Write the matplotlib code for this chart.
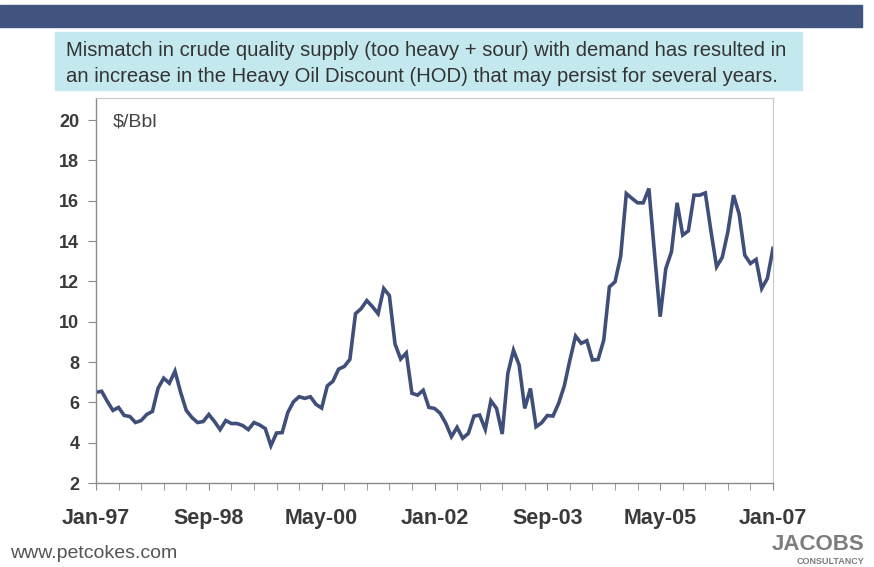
import numpy as np
import matplotlib
matplotlib.use('Agg')
import matplotlib.pyplot as plt
from matplotlib.patches import Rectangle

plt.rcParams['font.family'] = ['Liberation Sans', 'DejaVu Sans']

# Heavy Oil Discount, monthly Jan-97 .. Jan-07 ($/Bbl)
hod = [6.5, 6.55, 6.05, 5.6, 5.75, 5.35, 5.3, 5.0, 5.1, 5.4,
       5.55, 6.7, 7.2, 6.95, 7.55, 6.5, 5.6, 5.25, 5.0, 5.05,
       5.4, 5.05, 4.65, 5.1, 4.95, 4.95, 4.85, 4.65, 5.0, 4.88,
       4.7, 3.85, 4.48, 4.5, 5.5, 6.03, 6.28, 6.2, 6.28, 5.9,
       5.72, 6.82, 7.05, 7.65, 7.78, 8.13, 10.4, 10.65, 11.05, 10.75,
       10.4, 11.65, 11.3, 8.9, 8.15, 8.45, 6.45, 6.36, 6.6, 5.75,
       5.7, 5.46, 4.96, 4.3, 4.76, 4.22, 4.46, 5.32, 5.37, 4.66,
       6.08, 5.7, 4.43, 7.44, 8.59, 7.85, 5.7, 6.69, 4.79, 4.99,
       5.35, 5.32, 5.95, 6.81, 8.1, 9.29, 8.93, 9.06, 8.1, 8.13,
       9.09, 11.73, 11.98, 13.25, 16.36, 16.12, 15.9, 15.9, 16.61, 13.39,
       10.25, 12.64, 13.47, 15.9, 14.3, 14.51, 16.28, 16.28, 16.39, 14.5,
       12.73, 13.19, 14.46, 16.28, 15.34, 13.3, 12.89, 13.09, 11.65, 12.15,
       13.64]
tick_labels = ['Jan-97', 'Sep-98', 'May-00', 'Jan-02', 'Sep-03', 'May-05', 'Jan-07']
y_ticks = [2, 4, 6, 8, 10, 12, 14, 16, 18, 20]

months = np.arange(len(hod))

fig = plt.figure(figsize=(8.74, 5.67), dpi=100)
fig.patch.set_facecolor('white')

# header band and caption box
fig.patches.append(Rectangle((0, 1 - 27 / 567), 862 / 874, 22 / 567,
                             transform=fig.transFigure, color='#41547f', zorder=0))
fig.patches.append(Rectangle((55 / 874, 1 - 90 / 567), 747 / 874, 58 / 567,
                             transform=fig.transFigure, color='#c3e9ef', zorder=0))
fig.text(66 / 874, 1 - 51 / 567,
         'Mismatch in crude quality supply (too heavy + sour) with demand has resulted in',
         fontsize=14.6, color='#333333', va='center')
fig.text(66 / 874, 1 - 76 / 567,
         'an increase in the Heavy Oil Discount (HOD) that may persist for several years.',
         fontsize=14.6, color='#333333', va='center')

ax = fig.add_axes([96 / 874, 84 / 567, 677 / 874, 385 / 567])
ax.plot(months, hod, color='#3f4f7a', lw=2.6, solid_joinstyle='miter')

ax.set_xlim(0, len(hod) - 1)
ax.set_ylim(2, 21.1)
ax.set_yticks(y_ticks)
ax.set_xticks(months[::4], minor=True)
ax.set_xticks(months[::20])
ax.set_xticklabels(tick_labels)

for side in ['top', 'right']:
    ax.spines[side].set_color('#c8c8c8')
    ax.spines[side].set_linewidth(0.8)
for side in ['left', 'bottom']:
    ax.spines[side].set_color('#8a8a8a')
    ax.spines[side].set_linewidth(1.0)

ax.tick_params(axis='y', direction='out', length=6, color='#8a8a8a',
               labelsize=13, labelcolor='#3a3a3a', pad=6)
ax.tick_params(axis='x', which='both', direction='out', length=5, color='#8a8a8a')
ax.tick_params(axis='x', which='major', labelsize=15.5, labelcolor='#3a3a3a', pad=13)
for lab in ax.get_xticklabels() + ax.get_yticklabels():
    lab.set_fontweight('bold')

ax.text(0.024, 0.96, '$/Bbl', transform=ax.transAxes, fontsize=14,
        color='#444444', va='top')

# footer
fig.text(10 / 874, 1 - 553 / 567, 'www.petcokes.com', fontsize=14,
         color='#555555', va='center')
fig.text(864 / 874, 1 - 545 / 567, 'JACOBS', fontsize=16, fontweight='bold',
         color='#7d7d7d', ha='right', va='center')
fig.text(864 / 874, 1 - 561 / 567, 'CONSULTANCY', fontsize=6.5, fontweight='bold',
         color='#7d7d7d', ha='right', va='center')

fig.savefig('out.png', dpi=100)
